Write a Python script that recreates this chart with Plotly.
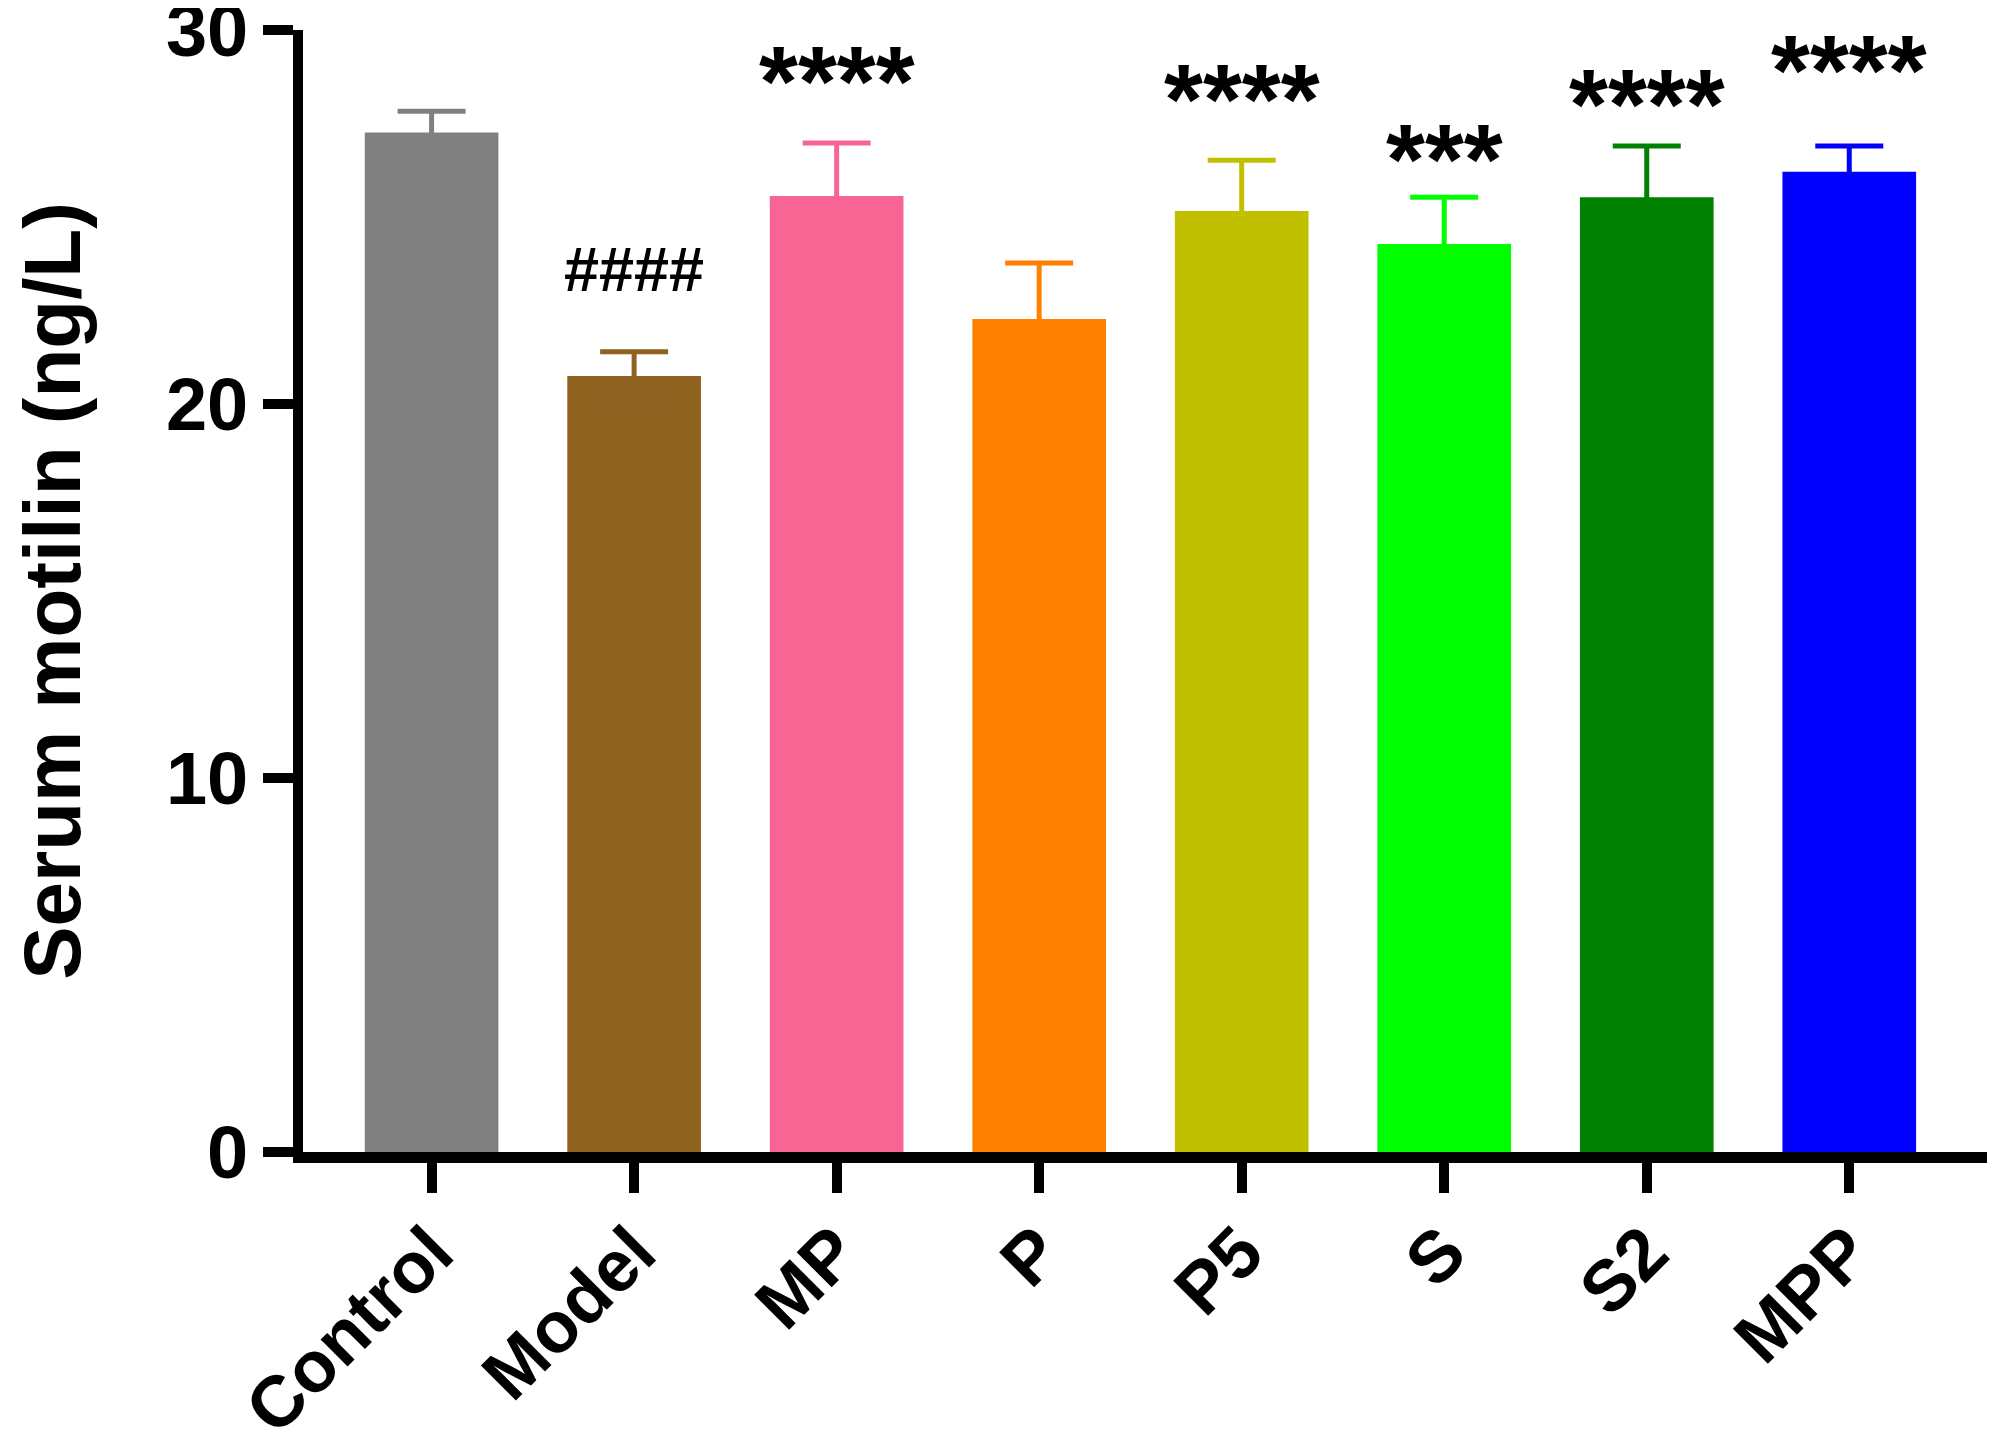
import plotly.graph_objects as go

# group names, means and upper error (SEM)
groups = ["Control", "Model", "MP", "P", "P5", "S", "S2", "MPP"]
motilin_mean = [27.26, 20.75, 25.56, 22.27, 25.16, 24.28, 25.53, 26.21]
motilin_err = [0.57, 0.65, 1.42, 1.50, 1.36, 1.25, 1.37, 0.69]
bar_colors = ["#808080", "#8F6220", "#F86594", "#FF8000", "#C0C000", "#00FF00", "#008000", "#0000FF"]

# significance marks and the height (in ng/L) they sit at
sig_labels = ["", "####", "****", "", "****", "***", "****", "****"]
sig_level = [0, 23.6, 28.98, 0, 28.5, 26.9, 28.37, 29.28]

FONT = "Liberation Sans, Arial, sans-serif"

fig = go.Figure()

# one trace per group so each whisker takes its bar's colour
for i, g in enumerate(groups):
    fig.add_trace(
        go.Bar(
            x=[i],
            y=[motilin_mean[i]],
            width=0.66,
            marker=dict(color=bar_colors[i], line=dict(width=0)),
            error_y=dict(
                type="data",
                symmetric=True,
                array=[motilin_err[i]],
                color=bar_colors[i],
                thickness=5,
                width=34,
            ),
            name=g,
            showlegend=False,
        )
    )

for i, lab in enumerate(sig_labels):
    if not lab:
        continue
    if lab.startswith("#"):
        fnt = dict(family=FONT, size=63, color="black", weight="bold")
        shift = 0
    else:
        fnt = dict(family=FONT, size=100, color="black", weight="bold")
        shift = -13
    fig.add_annotation(
        x=i,
        y=sig_level[i],
        text=lab,
        showarrow=False,
        font=fnt,
        xanchor="center",
        yanchor="middle",
        yshift=shift,
    )

# page body keeps its default 8px margin, so the figure is 8px smaller each way
fig.update_layout(
    width=1987,
    height=1445,
    margin=dict(l=295, r=6, t=22, b=301),
    plot_bgcolor="white",
    paper_bgcolor="white",
    barmode="overlay",
    font=dict(family=FONT, color="black"),
)

fig.update_xaxes(
    range=[-0.635, 7.69],
    automargin=False,
    tickmode="array",
    tickvals=list(range(len(groups))),
    ticktext=groups,
    tickangle=-45,
    ticklabelstandoff=-12,
    tickfont=dict(family=FONT, size=72, color="black", weight="bold"),
    showline=True,
    linecolor="black",
    linewidth=11,
    ticks="outside",
    ticklen=30,
    tickwidth=10,
    tickcolor="black",
    showgrid=False,
    zeroline=False,
)

fig.update_yaxes(
    range=[0, 30],
    automargin=False,
    tickvals=[0, 10, 20, 30],
    ticklabeloverflow="allow",
    tickfont=dict(family=FONT, size=74, color="black", weight="bold"),
    showline=True,
    linecolor="black",
    linewidth=10,
    ticks="outside",
    ticklen=30,
    tickwidth=10,
    tickcolor="black",
    showgrid=False,
    zeroline=False,
    title=dict(
        text="Serum motilin (ng/L)",
        font=dict(family=FONT, size=80, color="black", weight="bold"),
        standoff=92,
    ),
)

fig.write_html("out.html")
